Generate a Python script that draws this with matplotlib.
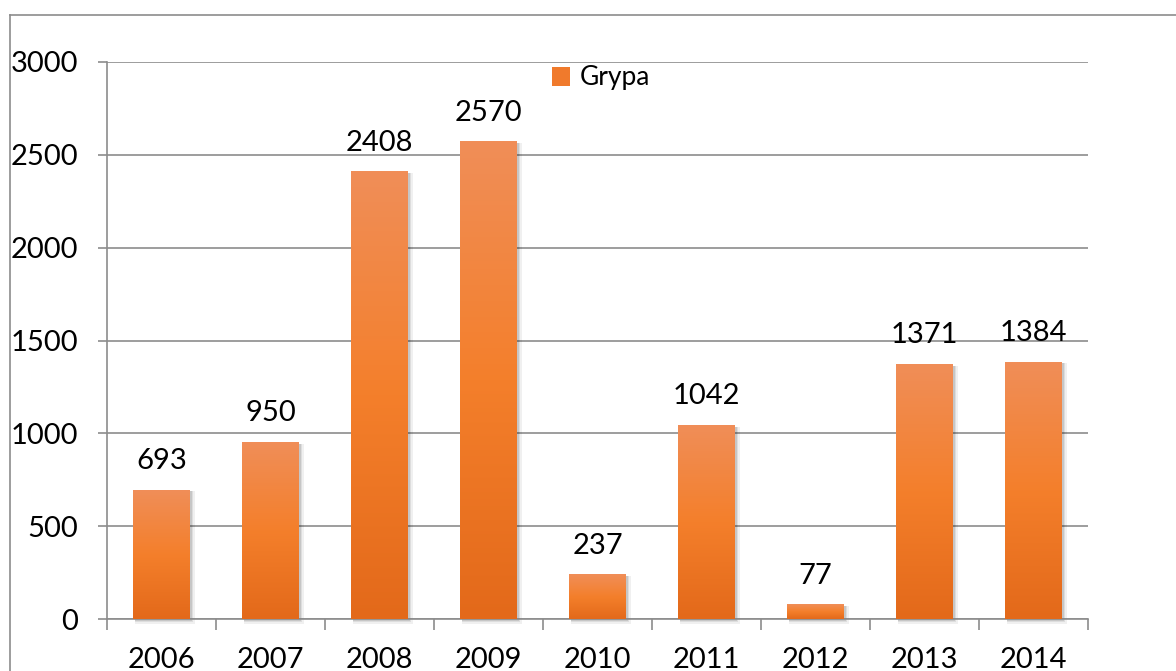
import numpy as np
import matplotlib.pyplot as plt
from matplotlib.colors import LinearSegmentedColormap
from matplotlib.patches import Rectangle, Patch
from matplotlib.lines import Line2D

years = ['2006', '2007', '2008', '2009', '2010', '2011', '2012', '2013', '2014']
grypa = [693, 950, 2408, 2570, 237, 1042, 77, 1371, 1384]
y_ticks = [0, 500, 1000, 1500, 2000, 2500, 3000]
series_name = 'Grypa'

plt.rcParams['font.family'] = ['Lato', 'DejaVu Sans']


def main():
    fig = plt.figure(figsize=(11.76, 6.71), dpi=100)
    ax = fig.add_axes([107 / 1176, 1 - 619 / 671, (1088 - 107) / 1176, (619 - 62) / 671])

    grid_c = '#8c8c8c'
    cmap = LinearSegmentedColormap.from_list(
        'orange', ['#e3691a', '#f47f2b', '#f08e58'])
    grad = np.linspace(0, 1, 256).reshape(-1, 1)
    bar_w = 0.515
    x = np.arange(len(years))
    fs = 21

    ax.set_xlim(-0.5, len(years) - 0.5)
    ax.set_ylim(0, 3000)

    # bars: gradient fill with a soft shadow to the right/bottom
    bars = ax.bar(x, grypa, width=bar_w, color='none', zorder=3)
    for b in bars:
        bx, by = b.get_x(), b.get_y()
        bw, bh = b.get_width(), b.get_height()
        for k, a in enumerate([0.06, 0.08, 0.1]):
            off_x = 0.012 * (3 - k)
            off_y = 9 * (3 - k)
            ax.add_patch(Rectangle((bx + 0.01, by - off_y), bw + off_x, bh + off_y - 6,
                                   color='black', alpha=a, lw=0, zorder=2,
                                   clip_on=False))
        ax.imshow(grad, cmap=cmap, origin='lower', aspect='auto',
                  extent=(bx, bx + bw, by, by + bh), zorder=3)

    for xi, v in zip(x, grypa):
        ax.annotate(str(v), (xi, v), xytext=(0, 21), textcoords='offset points',
                    ha='center', va='center', fontsize=fs, color='black')

    # axes styling
    for s in ['top', 'right']:
        ax.spines[s].set_visible(False)
    ax.spines['left'].set_color(grid_c)
    ax.spines['bottom'].set_color(grid_c)
    ax.spines['left'].set_linewidth(1.2)
    ax.spines['bottom'].set_linewidth(1.2)
    ax.set_yticks(y_ticks)
    ax.set_yticklabels([str(t) for t in y_ticks])
    ax.yaxis.grid(True, color=grid_c, linewidth=1.2, zorder=0)
    ax.set_axisbelow(True)
    ax.tick_params(axis='y', length=6.5, width=1.2, color=grid_c, labelsize=fs, pad=14.5)

    ax.set_xticks(np.arange(len(years) + 1) - 0.5)
    ax.set_xticklabels([])
    ax.tick_params(axis='x', which='major', length=8, width=1.2, color=grid_c)
    ax.set_xticks(x, minor=True)
    ax.set_xticklabels(years, minor=True)
    ax.tick_params(axis='x', which='minor', length=0, labelsize=fs, pad=20)

    handle = Patch(facecolor='#f07a2c', edgecolor='none')
    ax.legend([handle], [series_name], loc='center left', frameon=False,
              bbox_to_anchor=(552 / 1176, 1 - 78 / 671), bbox_transform=fig.transFigure,
              fontsize=19, handlelength=0.7, handleheight=0.7, handletextpad=0.35,
              borderaxespad=0, borderpad=0)

    # outer chart border (partly cut off on right and bottom)
    fig.add_artist(Line2D([9.5 / 1176, 9.5 / 1176], [0, 1 - 15 / 671],
                          transform=fig.transFigure, color=grid_c, lw=1.2))
    fig.add_artist(Line2D([9.5 / 1176, 1], [1 - 15 / 671, 1 - 15 / 671],
                          transform=fig.transFigure, color=grid_c, lw=1.2))

    fig.savefig('out.png', dpi=100)
    print("Plot generated successfully.")


if __name__ == "__main__":
    main()
